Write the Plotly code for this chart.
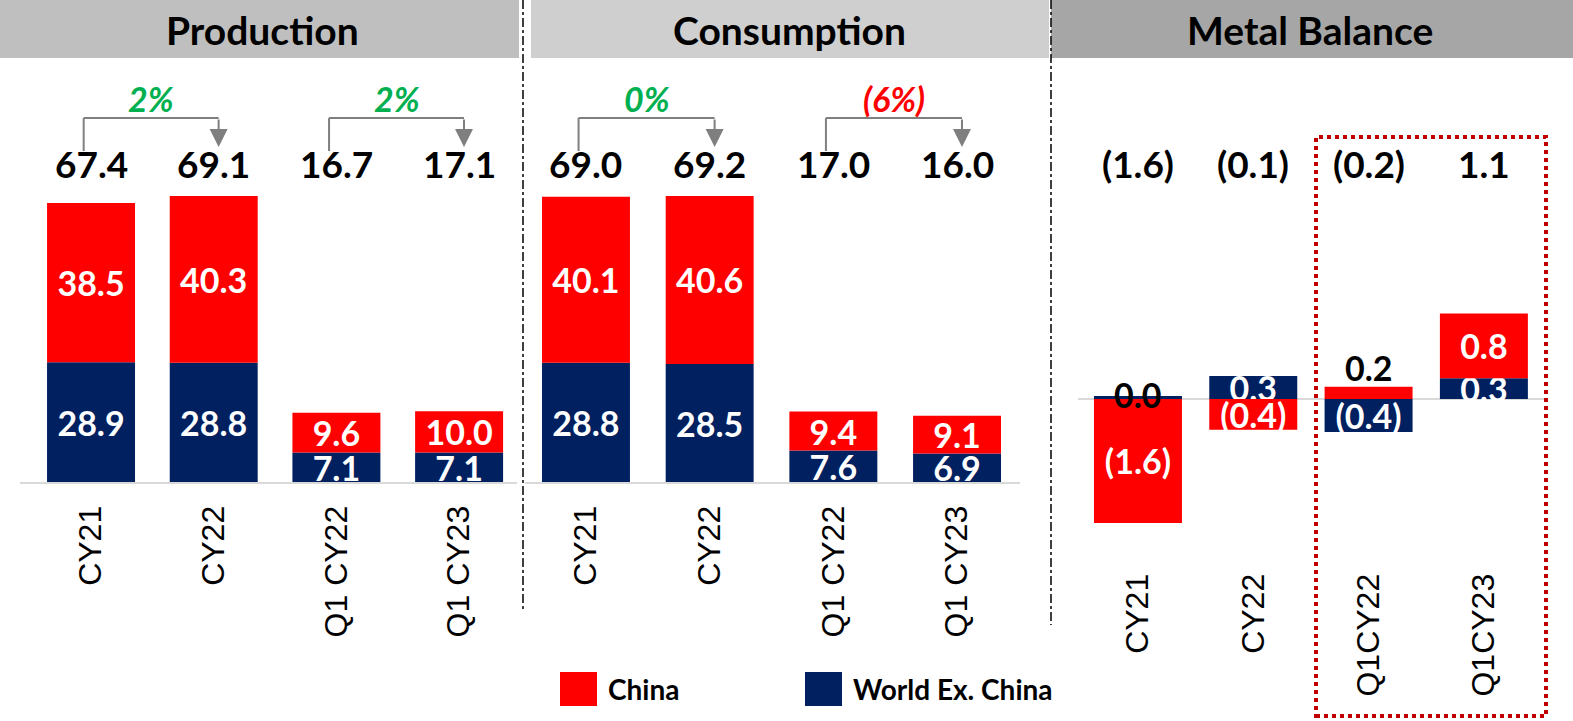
import plotly.graph_objects as go

W, H = 1573, 721

periods = ["CY21", "CY22", "Q1 CY22", "Q1 CY23"]
mb_periods = ["CY21", "CY22", "Q1CY22", "Q1CY23"]

prod_china = [38.5, 40.3, 9.6, 10.0]
prod_world = [28.9, 28.8, 7.1, 7.1]
prod_total = [67.4, 69.1, 16.7, 17.1]
prod_growth = ["2%", "2%"]

cons_china = [40.1, 40.6, 9.4, 9.1]
cons_world = [28.8, 28.5, 7.6, 6.9]
cons_total = [69.0, 69.2, 17.0, 16.0]
cons_growth = ["0%", "(6%)"]

bal_china = [-1.61, -0.40, 0.16, 0.84]
bal_world = [0.04, 0.30, -0.43, 0.27]
bal_total = [-1.6, -0.1, -0.2, 1.1]

RED = "#FF0000"
NAVY = "#002060"
GREEN = "#00B050"
GREY = "#7F7F7F"
BOLD = "Lato"


def fmt(v):
    return "(%.1f)" % abs(v) if v < 0 else "%.1f" % v


def px(x):
    return x / W


def py(y):
    return 1 - y / H


xs = [0, 1, 2, 3]
fig = go.Figure()

panels = [
    ("x", "y", prod_world, prod_china, 0.717),
    ("x2", "y2", cons_world, cons_china, 0.711),
    ("x3", "y3", bal_world, bal_china, 0.763),
]
for xa, ya, world, china, w in panels:
    for name, vals, col in [("World Ex. China", world, NAVY), ("China", china, RED)]:
        small = xa == "x3"
        txt = [("" if (small and abs(v) < 0.2) else fmt(v)) for v in vals]
        fig.add_trace(go.Bar(
            x=xs, y=vals, name=name, marker_color=col, marker_line_width=0,
            width=w, xaxis=xa, yaxis=ya, showlegend=False,
            text=txt, texttemplate="<b>%{text}</b>", textposition="inside",
            insidetextanchor="middle", textangle=0, cliponaxis=False,
            textfont=dict(family=BOLD, size=34, color="white"),
            hoverinfo="skip",
        ))

# small metal balance segments labelled outside in black
cum_pos = [0, 0, 0, 0]
cum_neg = [0, 0, 0, 0]
for vals in [bal_world, bal_china]:
    for i, v in enumerate(vals):
        if v >= 0:
            base = cum_pos[i]
            cum_pos[i] += v
        else:
            base = cum_neg[i]
            cum_neg[i] += v
        if abs(v) < 0.2:
            if v < 0.1:
                fig.add_annotation(x=i, y=base + v / 2, xref="x3", yref="y3", text="<b>%s</b>" % fmt(v),
                                   showarrow=False, font=dict(family=BOLD, size=34, color="black"),
                                   xanchor="center", yanchor="middle", yshift=3)
            else:
                fig.add_annotation(x=i, y=base + v, xref="x3", yref="y3", text="<b>%s</b>" % fmt(v),
                                   showarrow=False, font=dict(family=BOLD, size=34, color="black"),
                                   xanchor="center", yanchor="bottom", yshift=-3)

# totals row
for xa, totals in [("x", prod_total), ("x2", cons_total), ("x3", bal_total)]:
    for i, t in enumerate(totals):
        fig.add_annotation(x=i, y=py(163), xref=xa, yref="paper", text="<b>%s</b>" % fmt(t),
                           showarrow=False, xanchor="center", yanchor="middle",
                           font=dict(family=BOLD, size=37, color="black"))

# growth brackets
scale = 4.14
def yd(pix):
    return (482 - pix) / scale

for xa, ya, growth in [("x", "y", prod_growth), ("x2", "y2", cons_growth)]:
    for k, g in enumerate(growth):
        a = 2 * k - 0.06
        b = 2 * k + 1 + 0.04
        fig.add_shape(type="line", xref=xa, yref=ya, x0=a, x1=a, y0=yd(151), y1=yd(118),
                      line=dict(color=GREY, width=2))
        fig.add_shape(type="line", xref=xa, yref=ya, x0=a, x1=b, y0=yd(118), y1=yd(118),
                      line=dict(color=GREY, width=2))
        fig.add_annotation(x=b, y=yd(147), xref=xa, yref=ya, ax=0, ay=-29, text="",
                           showarrow=True, arrowhead=2, arrowsize=1.8, arrowwidth=2, arrowcolor=GREY)
        col = RED if g.startswith("(") else GREEN
        fig.add_annotation(x=(a + b) / 2, y=yd(99), xref=xa, yref=ya, text="<b><i>%s</i></b>" % g,
                           showarrow=False, xanchor="center", yanchor="middle",
                           font=dict(family=BOLD, size=34, color=col))

# header bands
for x0, x1, col, title, cx in [(0, 519, "#BFBFBF", "Production", 262),
                               (531, 1049, "#CFCFCF", "Consumption", 790),
                               (1051, W, "#A6A6A6", "Metal Balance", 1310)]:
    fig.add_shape(type="rect", xref="paper", yref="paper", x0=px(x0), x1=px(x1), y0=py(58), y1=1,
                  fillcolor=col, line_width=0, layer="below")
    fig.add_annotation(x=px(cx), y=py(30), xref="paper", yref="paper", text="<b>%s</b>" % title,
                       showarrow=False, xanchor="center", yanchor="middle",
                       font=dict(family=BOLD, size=39, color="black"))

# dividers
for x, yb in [(523, 612), (1051, 625)]:
    fig.add_shape(type="line", xref="paper", yref="paper", x0=px(x), x1=px(x), y0=py(0), y1=py(yb),
                  line=dict(color="black", width=1.5, dash="dashdot"))

# highlight box around quarterly balance
fig.add_shape(type="rect", xref="paper", yref="paper", x0=px(1316), x1=px(1546), y0=py(716), y1=py(137),
              line=dict(color="#C00000", width=4, dash="dot"))

# legend
for x0, col, label in [(560, RED, "China"), (805, NAVY, "World Ex. China")]:
    fig.add_shape(type="rect", xref="paper", yref="paper", x0=px(x0), x1=px(x0 + 37), y0=py(706), y1=py(672),
                  fillcolor=col, line_width=0)
    fig.add_annotation(x=px(x0 + 46), y=py(689), xref="paper", yref="paper", text="<b>%s</b>" % label,
                       showarrow=False, xanchor="left", yanchor="middle",
                       font=dict(family=BOLD, size=28, color="black"))

tickfont = dict(family="Liberation Sans", size=32, color="black")
xcommon = dict(tickmode="array", tickvals=xs, tickangle=-90, tickfont=tickfont, showgrid=False,
               zeroline=False, ticks="outside", tickcolor="rgba(0,0,0,0)")
ycommon = dict(showgrid=False, showticklabels=False, ticks="")

fig.update_layout(
    width=W, height=H, margin=dict(l=0, r=0, t=0, b=0),
    paper_bgcolor="white", plot_bgcolor="rgba(0,0,0,0)",
    barmode="relative", bargap=0.28,
    uniformtext=dict(minsize=34, mode="show"),
    xaxis=dict(xcommon, domain=[px(20), px(517)], range=[-0.579, 3.472], ticktext=periods,
               anchor="y", showline=True, linecolor="#D9D9D9", linewidth=2, ticklen=9),
    xaxis2=dict(xcommon, domain=[px(525), px(1020)], range=[-0.493, 3.509], ticktext=periods,
                anchor="y2", showline=True, linecolor="#D9D9D9", linewidth=2, ticklen=9),
    xaxis3=dict(xcommon, domain=[px(1078), px(1545)], range=[-0.52, 3.53], ticktext=mb_periods,
                anchor="y3", showline=False, ticklen=0),
    yaxis=dict(ycommon, domain=[py(482), py(60)], range=[0, 422 / scale], zeroline=False),
    yaxis2=dict(ycommon, domain=[py(482), py(60)], range=[0, 422 / scale], zeroline=False, anchor="x2"),
    yaxis3=dict(ycommon, domain=[py(560), py(60)], range=[-(560 - 399) / 77, (399 - 60) / 77],
                zeroline=True, zerolinecolor="#D9D9D9", zerolinewidth=2, anchor="x3"),
)

fig.write_html("out.html", config={"displayModeBar": False},
               post_script="document.body.style.margin='0';")
